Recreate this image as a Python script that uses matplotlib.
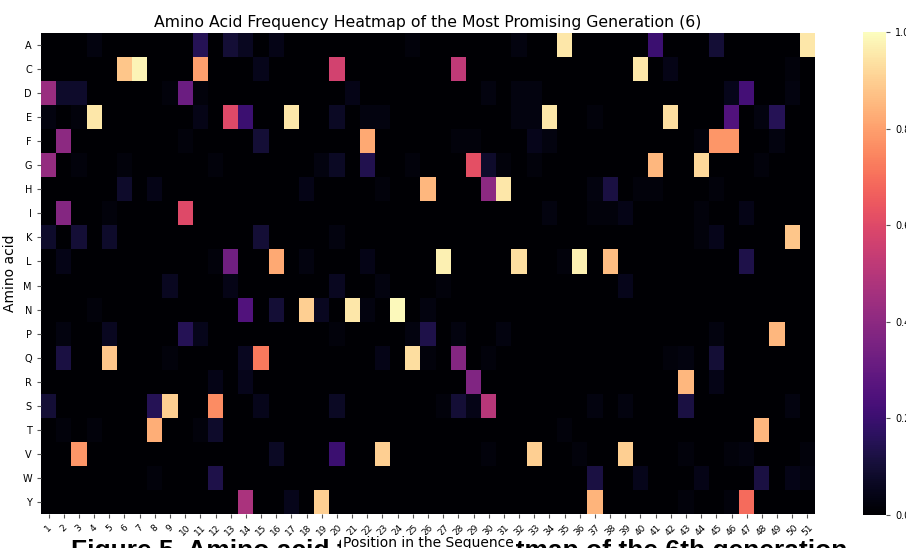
import numpy as np
import matplotlib
matplotlib.use("Agg")
import matplotlib.pyplot as plt

# amino acids (rows) and sequence positions (columns)
amino_acids = ['A', 'C', 'D', 'E', 'F', 'G', 'H', 'I', 'K', 'L',
               'M', 'N', 'P', 'Q', 'R', 'S', 'T', 'V', 'W', 'Y']
positions = list(range(1, 52))

# frequencies, {position: frequency}, everything else is 0
freq_A = {4: 0.03, 11: 0.15, 13: 0.1, 14: 0.06, 16: 0.04, 25: 0.02, 32: 0.03,
          35: 0.95, 41: 0.2, 45: 0.1, 51: 0.95}
freq_C = {6: 0.88, 7: 0.98, 11: 0.8, 15: 0.05, 20: 0.57, 28: 0.52, 40: 0.95,
          42: 0.04, 50: 0.02}
freq_D = {1: 0.43, 2: 0.08, 3: 0.08, 9: 0.02, 10: 0.32, 11: 0.02, 21: 0.04,
          30: 0.03, 32: 0.03, 33: 0.03, 46: 0.05, 47: 0.22, 50: 0.03}
freq_E = {1: 0.03, 3: 0.02, 4: 0.95, 11: 0.04, 13: 0.6, 14: 0.2, 17: 0.95,
          20: 0.07, 22: 0.03, 23: 0.03, 32: 0.03, 33: 0.03, 34: 0.95, 37: 0.02,
          42: 0.93, 46: 0.25, 48: 0.03, 49: 0.15}
freq_F = {2: 0.4, 10: 0.02, 15: 0.1, 22: 0.82, 28: 0.02, 29: 0.02, 33: 0.05,
          34: 0.03, 44: 0.02, 45: 0.78, 46: 0.78, 49: 0.03}
freq_G = {1: 0.42, 3: 0.02, 6: 0.02, 12: 0.02, 19: 0.03, 20: 0.07, 22: 0.14,
          25: 0.02, 29: 0.62, 30: 0.08, 31: 0.02, 33: 0.02, 41: 0.85, 44: 0.92,
          48: 0.02}
freq_H = {6: 0.08, 8: 0.04, 18: 0.04, 23: 0.02, 26: 0.85, 30: 0.4, 31: 0.95,
          37: 0.03, 38: 0.12, 40: 0.02, 41: 0.02, 45: 0.02}
freq_I = {2: 0.38, 5: 0.02, 10: 0.6, 34: 0.03, 37: 0.02, 38: 0.02, 39: 0.04,
          44: 0.02, 47: 0.04}
freq_K = {1: 0.08, 3: 0.1, 5: 0.08, 15: 0.1, 20: 0.03, 44: 0.02, 45: 0.05,
          50: 0.88}
freq_L = {2: 0.04, 12: 0.02, 13: 0.33, 16: 0.82, 18: 0.03, 22: 0.04, 27: 0.97,
          32: 0.93, 35: 0.02, 36: 0.97, 38: 0.86, 47: 0.13}
freq_M = {9: 0.06, 13: 0.04, 20: 0.06, 23: 0.03, 27: 0.02, 39: 0.05}
freq_N = {4: 0.02, 14: 0.25, 16: 0.1, 18: 0.9, 19: 0.06, 21: 0.95, 22: 0.03,
          24: 0.99, 26: 0.03}
freq_P = {2: 0.03, 5: 0.06, 10: 0.15, 11: 0.05, 20: 0.02, 25: 0.03, 26: 0.13,
          28: 0.03, 31: 0.03, 45: 0.03, 49: 0.85}
freq_Q = {2: 0.12, 5: 0.88, 9: 0.02, 14: 0.06, 15: 0.72, 23: 0.04, 25: 0.93,
          26: 0.02, 28: 0.38, 30: 0.02, 42: 0.02, 43: 0.03, 45: 0.1}
freq_R = {12: 0.04, 14: 0.05, 29: 0.37, 43: 0.85, 45: 0.04}
freq_S = {1: 0.1, 8: 0.15, 9: 0.9, 12: 0.76, 15: 0.05, 20: 0.07, 27: 0.02,
          28: 0.1, 29: 0.04, 30: 0.5, 37: 0.03, 39: 0.03, 43: 0.12, 50: 0.03}
freq_T = {2: 0.02, 4: 0.02, 8: 0.83, 11: 0.02, 12: 0.08, 35: 0.02, 48: 0.85}
freq_V = {3: 0.78, 16: 0.07, 20: 0.2, 23: 0.9, 30: 0.02, 33: 0.9, 36: 0.02,
          39: 0.9, 43: 0.02, 46: 0.02, 47: 0.03, 51: 0.02}
freq_W = {8: 0.02, 12: 0.13, 37: 0.12, 40: 0.05, 44: 0.04, 48: 0.12, 50: 0.04,
          51: 0.03}
freq_Y = {14: 0.47, 17: 0.05, 19: 0.9, 37: 0.84, 43: 0.02, 46: 0.02, 47: 0.69}

rows = [freq_A, freq_C, freq_D, freq_E, freq_F, freq_G, freq_H, freq_I, freq_K,
        freq_L, freq_M, freq_N, freq_P, freq_Q, freq_R, freq_S, freq_T, freq_V,
        freq_W, freq_Y]

# build the full matrix from the sparse rows
matrix = np.zeros((len(amino_acids), len(positions)))
for i, row in enumerate(rows):
    for pos, val in row.items():
        matrix[i, positions.index(pos)] = val

W, H = 906, 548
fig = plt.figure(figsize=(W / 100, H / 100), dpi=100)
ax = fig.add_axes([41 / W, 1 - 514 / H, 774 / W, 481 / H])
cax = fig.add_axes([863 / W, 1 - 515 / H, 23 / W, 483 / H])

mesh = ax.pcolormesh(matrix, cmap='magma', vmin=0, vmax=1)
ax.set_xlim(0, len(positions))
ax.set_ylim(len(amino_acids), 0)
for s in ax.spines.values():
    s.set_visible(False)

ax.set_xticks(np.arange(len(positions)) + 0.5)
ax.set_xticklabels(positions, rotation=45, fontsize=6.5)
ax.set_yticks(np.arange(len(amino_acids)) + 0.5)
ax.set_yticklabels(amino_acids, fontsize=7)
ax.tick_params(length=3, color='#555555')
xl = ax.set_xlabel('Position in the Sequence', fontsize=10, labelpad=-1)
xl.set_bbox(dict(facecolor='white', edgecolor='none', pad=1))
ax.set_ylabel('Amino acid', fontsize=10)
ax.set_title('Amino Acid Frequency Heatmap of the Most Promising Generation (6)',
             fontsize=11.3, pad=4)

cb = fig.colorbar(mesh, cax=cax)
cb.outline.set_visible(False)
cb.set_ticks([0, 0.2, 0.4, 0.6, 0.8, 1.0])
cb.ax.tick_params(labelsize=7, length=3, color='#555555')

# document caption, cut off at the bottom edge, sits behind the chart
fig.text(0.507, 1 - 539 / H, 'Figure 5. Amino acid frequency heatmap of the 6th generation',
         ha='center', va='top', fontsize=19, fontweight='bold',
         family='Liberation Sans', zorder=-1)

fig.savefig('out.png', dpi=100)
